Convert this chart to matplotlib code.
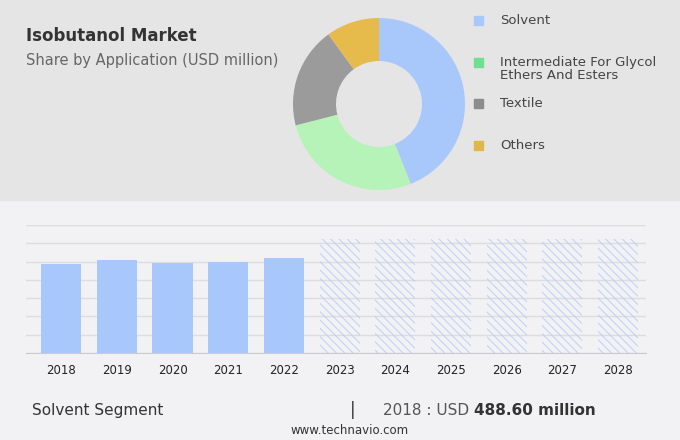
import matplotlib
matplotlib.use("Agg")
import matplotlib.pyplot as plt
from matplotlib.patches import Rectangle

years = ["2018","2019","2020","2021","2022","2023","2024","2025","2026","2027","2028"]
hist_values = [488.6, 506, 490, 500, 520]
forecast_values = [625, 625, 625, 625, 625, 625]
segments = ["Solvent", "Intermediate For Glycol\nEthers And Esters", "Textile", "Others"]
shares = [44, 27, 19, 10]
seg_colors = ["#a8c8fc", "#b6f3b8", "#9b9b9b", "#e6ba4b"]
legend_colors = ["#a8c8fc", "#6fe08f", "#8c8c8c", "#e0b84a"]

plt.rcParams["hatch.color"] = "#b8d0f8"
plt.rcParams["hatch.linewidth"] = 0.7

fig = plt.figure(figsize=(6.8, 4.4), dpi=100)
fig.patch.set_facecolor("#f2f2f4")
fig.add_artist(Rectangle((0, 1-200/440), 1, 200/440, transform=fig.transFigure, color="#e5e5e5", zorder=0))

fig.text(26/680, 1-36/440, "Isobutanol Market", fontsize=12, fontweight="bold", color="#333333", va="center")
fig.text(26/680, 1-61/440, "Share by Application (USD million)", fontsize=10.5, color="#666666", va="center")

# donut
r = 86
axp = fig.add_axes([(379-r)/680, 1-(104+r)/440, 2*r/680, 2*r/440])
axp.pie(shares, colors=seg_colors, startangle=90, counterclock=False, radius=1,
        wedgeprops=dict(width=0.5, edgecolor="none"))
axp.set_xlim(-1, 1)
axp.set_ylim(-1, 1)
axp.set_aspect("equal")

ly = [20, 62, 103, 145]
for lab, c, y in zip(segments, legend_colors, ly):
    fig.add_artist(Rectangle((474/680, 1-(y+5)/440), 9/680, 9/440, transform=fig.transFigure, color=c))
    yy = y if "\n" not in lab else y+7
    fig.text(500/680, 1-yy/440, lab, fontsize=9.5, color="#444444", va="center", linespacing=0.95)

# bars
ax = fig.add_axes([26/680, 1-353/440, 620/680, 128/440])
ax.set_facecolor("#f2f2f4")
x = list(range(len(years)))
ax.bar(x[:5], hist_values, width=0.72, color="#a8c8fc", zorder=3)
ax.bar(x[5:], forecast_values, width=0.72, color="none", edgecolor="#b8d0f8",
       hatch="\\\\\\\\", linewidth=0, zorder=3)
ax.set_xlim(-0.63, 10.5)
ax.set_ylim(0, 700)
ax.set_yticks(range(0, 701, 100))
ax.yaxis.grid(True, color="#dddddd", linewidth=1)
ax.tick_params(axis="y", left=False, labelleft=False)
ax.tick_params(axis="x", length=0, labelsize=8.5, colors="#222222", pad=8)
ax.set_xticks(x)
ax.set_xticklabels(years)
for s in ["top", "right", "left"]:
    ax.spines[s].set_visible(False)
ax.spines["bottom"].set_color("#cccccc")

fig.text(32/680, 1-410/440, "Solvent Segment", fontsize=11, color="#333333", va="center")
fig.text(350/680, 1-410/440, "|", fontsize=12, color="#333333", va="center")
fig.text(383/680, 1-410/440, "2018 : USD ", fontsize=11, color="#555555", va="center")
fig.text(474/680, 1-410/440, "488.60 million", fontsize=11, fontweight="bold", color="#333333", va="center")
fig.text(350/680, 1-430/440, "www.technavio.com", fontsize=8.5, color="#333333", va="center", ha="center")

fig.savefig("out.png", dpi=100, facecolor=fig.get_facecolor())
